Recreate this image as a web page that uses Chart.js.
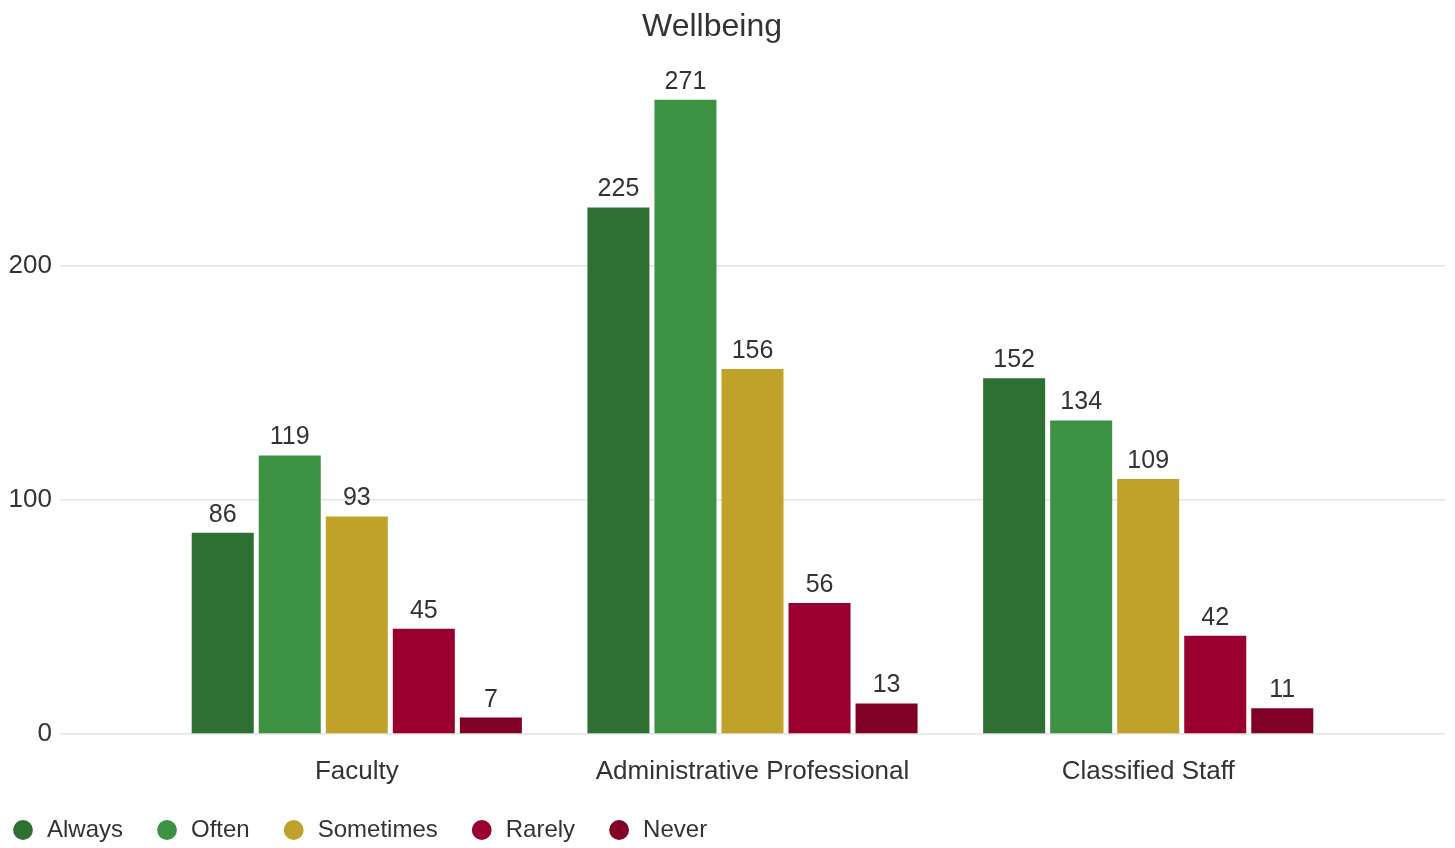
<!DOCTYPE html>
<html>
<head>
<meta charset="utf-8">
<title>Wellbeing</title>
<script src="https://cdn.jsdelivr.net/npm/chart.js@4/dist/chart.umd.min.js"></script>
<style>
    html, body { margin: 0; padding: 0; background: #fff; }
    #wrap { width: 1455px; height: 848px; position: relative; }
</style>
</head>
<body>
<div id="wrap"><canvas id="wellbeingChart"></canvas></div>
<script>
// Survey groups and answer counts
const groups = ['Faculty', 'Administrative Professional', 'Classified Staff'];
const answers = ['Always', 'Often', 'Sometimes', 'Rarely', 'Never'];
const always = [86, 225, 152];
const often = [119, 271, 134];
const sometimes = [93, 156, 109];
const rarely = [45, 56, 42];
const never = [7, 13, 11];
const yTicks = [0, 100, 200];

const seriesValues = [always, often, sometimes, rarely, never];
const seriesColors = ['#2e7031', '#3d9142', '#c0a22a', '#990030', '#800026'];

const textColor = '#333333';
const fontFamily = '"Liberation Sans", Arial, sans-serif';

// Writes each bar's value just above it
const barValueLabels = {
    id: 'barValueLabels',
    afterDatasetsDraw(chart) {
        const ctx = chart.ctx;
        ctx.save();
        ctx.font = '25px ' + fontFamily;
        ctx.fillStyle = textColor;
        ctx.textAlign = 'center';
        ctx.textBaseline = 'middle';
        chart.data.datasets.forEach((ds, i) => {
            chart.getDatasetMeta(i).data.forEach((bar, j) => {
                ctx.fillText(String(ds.data[j].y), bar.x, bar.y - 18);
            });
        });
        ctx.restore();
    }
};

const datasets = answers.map((name, i) => ({
    label: name,
    data: seriesValues[i].map((v, g) => ({ x: g, y: v })),
    backgroundColor: seriesColors[i],
    borderColor: seriesColors[i],
    borderWidth: 0,
    categoryPercentage: 0.847,
    barPercentage: 0.925
}));

new Chart(document.getElementById('wellbeingChart'), {
    type: 'bar',
    data: { datasets: datasets },
    plugins: [barValueLabels],
    options: {
        responsive: true,
        maintainAspectRatio: false,
        animation: false,
        layout: {
            padding: { left: -21, right: 10, top: 0, bottom: -4 }
        },
        scales: {
            // linear index axis so the groups can sit inside a wider plot area
            x: {
                type: 'linear',
                offset: false,
                min: -0.75,
                max: 2.75,
                afterBuildTicks: (scale) => {
                    scale.ticks = groups.map((g, i) => ({ value: i }));
                },
                afterFit: (scale) => {
                    scale.height = 52;
                },
                grid: { display: false, drawTicks: false },
                border: { display: false },
                ticks: {
                    padding: 22,
                    color: textColor,
                    font: { family: fontFamily, size: 26 },
                    callback: (value) => groups[value]
                }
            },
            y: {
                min: 0,
                max: 290,
                afterBuildTicks: (scale) => {
                    scale.ticks = yTicks.map(v => ({ value: v }));
                },
                afterFit: (scale) => {
                    scale.width = 81;
                },
                grid: { color: '#e4e4e4', lineWidth: 1.5, drawTicks: false },
                border: { display: false },
                ticks: {
                    padding: 8,
                    color: textColor,
                    font: { family: fontFamily, size: 26 }
                }
            }
        },
        plugins: {
            title: {
                display: true,
                text: 'Wellbeing',
                color: textColor,
                font: { family: fontFamily, size: 32, weight: 'normal' },
                padding: { top: 8, bottom: 9 }
            },
            legend: {
                position: 'bottom',
                align: 'start',
                labels: {
                    usePointStyle: true,
                    pointStyle: 'circle',
                    boxHeight: 14,
                    padding: 32,
                    color: textColor,
                    font: { family: fontFamily, size: 24 }
                }
            },
            tooltip: { enabled: false }
        }
    }
});
</script>
</body>
</html>
